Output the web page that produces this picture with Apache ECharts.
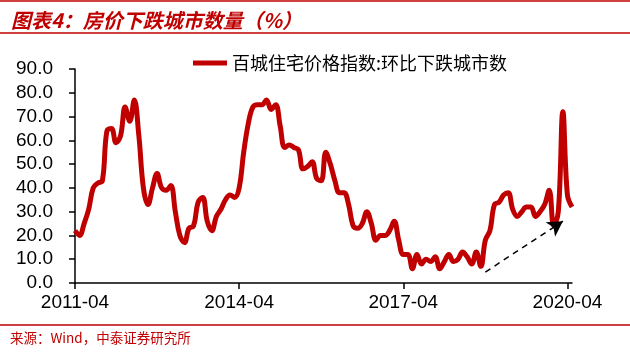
<!DOCTYPE html>
<html>
<head>
<meta charset="utf-8">
<script src="https://cdn.jsdelivr.net/npm/echarts@6/dist/echarts.min.js"></script>
<style>
  html, body { margin: 0; padding: 0; background: #fff; }
  #chart { width: 630px; height: 355px; }
</style>
</head>
<body>
<div id="chart"></div>
<script>
// 月份：2011-04 ~ 2020-05
const startYear = 2011, startMonth = 4;
const seriesName = '百城住宅价格指数:环比下跌城市数';
// 环比下跌城市数（%）
const values = [
  22, 20, 25, 31, 40, 42, 43, 64, 65, 59,
  62, 74, 68, 77, 62, 40, 33, 40, 46, 40,
  39, 41, 30, 20, 17, 23, 24, 34, 36, 26,
  22, 28, 31, 35, 37, 36, 40, 55, 67, 74,
  75, 75, 77, 73, 75, 66, 57, 58, 57, 56,
  48, 49, 51, 44, 43, 55, 50, 43, 38, 38,
  33, 24, 23, 25, 30, 25, 18, 20, 20, 22,
  26, 18, 12, 12, 6, 12, 8, 10, 9, 11,
  6, 9, 12, 9, 10, 13, 11, 8, 13, 7,
  18, 22, 33, 34, 37, 38, 31, 28, 30, 32,
  32, 28, 30, 33, 39, 24, 30, 72, 37, 32
];
// 趋势箭头起止（类目, 数值）
const arrowFrom = ['2018-10', 4.6];
const arrowTo = ['2020-03', 26];

const months = values.map((v, i) => {
  const t = startMonth - 1 + i;
  const y = startYear + Math.floor(t / 12);
  const m = (t % 12) + 1;
  return y + '-' + (m < 10 ? '0' + m : m);
});

const red = '#C00000';
const chart = echarts.init(document.getElementById('chart'));

chart.setOption({
  backgroundColor: '#fff',
  animation: false,
  title: {
    text: '图表4：房价下跌城市数量（%）',
    left: 6,
    top: 5,
    textStyle: {
      color: red,
      fontSize: 20,
      fontWeight: 'bold',
      fontStyle: 'italic',
      fontFamily: 'Noto Sans CJK SC'
    }
  },
  graphic: [
    { type: 'line', shape: { x1: 0, y1: 1, x2: 630, y2: 1 }, style: { stroke: red, lineWidth: 1.5 } },
    { type: 'line', shape: { x1: 0, y1: 33, x2: 630, y2: 33 }, style: { stroke: red, lineWidth: 1.5 } },
    { type: 'line', shape: { x1: 0, y1: 325, x2: 630, y2: 325 }, style: { stroke: red, lineWidth: 1.5 } },
    {
      type: 'text', left: 10, top: 331,
      style: { text: '来源：Wind，中泰证券研究所', fill: red, font: '13.5px "Noto Sans CJK SC"' }
    }
  ],
  legend: {
    data: [seriesName],
    top: 49,
    left: 188,
    icon: 'rect',
    itemWidth: 34,
    itemHeight: 5,
    itemGap: 0,
    textStyle: { color: '#000', fontSize: 18, fontFamily: 'Noto Sans CJK SC' }
  },
  grid: { left: 75, right: 58, top: 69, bottom: 72 },
  xAxis: {
    type: 'category',
    data: months,
    boundaryGap: false,
    axisLine: { lineStyle: { color: '#000', width: 1.5 } },
    axisTick: {
      inside: false,
      length: 6,
      interval: (i) => i % 36 === 0,
      lineStyle: { color: '#000', width: 1.5 }
    },
    axisLabel: {
      interval: (i) => i % 36 === 0,
      color: '#000',
      fontSize: 19,
      fontFamily: 'Liberation Sans',
      margin: 10
    },
    splitLine: { show: false }
  },
  yAxis: {
    type: 'value',
    min: 0,
    max: 90,
    interval: 10,
    axisLine: { show: true, lineStyle: { color: '#000', width: 1.5 } },
    axisTick: { show: true, length: 6, lineStyle: { color: '#000', width: 1.5 } },
    axisLabel: {
      color: '#000',
      fontSize: 19,
      fontFamily: 'Liberation Sans',
      margin: 22,
      formatter: (v) => v.toFixed(1)
    },
    splitLine: { show: false }
  },
  series: [{
    name: seriesName,
    type: 'line',
    data: values,
    smooth: 0.4,
    showSymbol: false,
    itemStyle: { color: red },
    lineStyle: { color: red, width: 5 },
    markLine: {
      silent: true,
      symbol: ['none', 'arrow'],
      symbolSize: [13, 15],
      label: { show: false },
      lineStyle: { color: '#000', type: [6, 5], width: 1.5 },
      data: [[{ coord: arrowFrom }, { coord: arrowTo }]]
    }
  }]
});
</script>
</body>
</html>
